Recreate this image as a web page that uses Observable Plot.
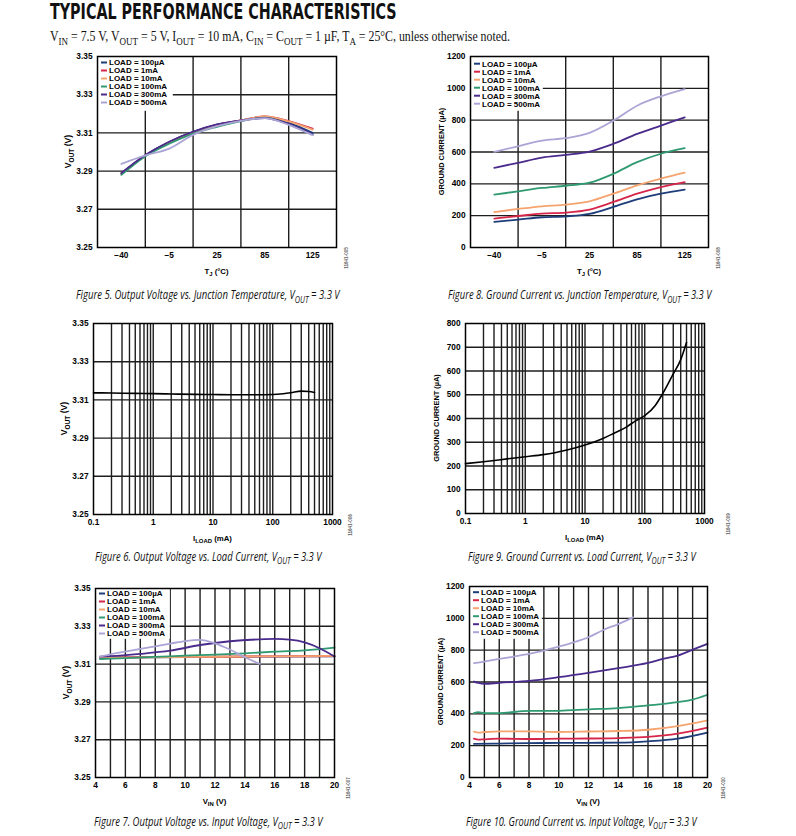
<!DOCTYPE html>
<html>
<head>
<meta charset="utf-8">
<script src="https://cdn.jsdelivr.net/npm/d3@7"></script>
<script src="https://cdn.jsdelivr.net/npm/@observablehq/plot@0.6"></script>
<style>
  html, body { margin: 0; padding: 0; background: #fff; }
  #page { position: relative; width: 796px; height: 836px; overflow: hidden; background: #fff; }
  #page svg.chart { position: absolute; }
  #overlay { position: absolute; left: 0; top: 0; pointer-events: none; }
</style>
</head>
<body>
<div id="page"></div>
<script>
// ---------------- DATA ----------------
const loads = ["100µA", "1mA", "10mA", "100mA", "300mA", "500mA"];
const loadColors = ["#1d3c7a", "#d6274b", "#f5a46f", "#2f9a72", "#4a2b8c", "#aba5d6"];

// Temperature axis (equally spaced categories)
const tempTicks = [-40, -5, 25, 85, 125];
const tempTickLabels = ["−40", "−5", "25", "85", "125"];
const tempPoints = [-40, -22.5, -5, 10, 25, 55, 85, 105, 125];

const voutTicks = [3.25, 3.27, 3.29, 3.31, 3.33, 3.35];
const gnd1200Ticks = [0, 200, 400, 600, 800, 1000, 1200];
const gnd800Ticks = [0, 100, 200, 300, 400, 500, 600, 700, 800];
const iLoadTicks = [0.1, 1, 10, 100, 1000];
const iLoadTickLabels = ["0.1", "1", "10", "100", "1000"];
const vinTicks = [4, 6, 8, 10, 12, 14, 16, 18, 20];

// Figure 5: VOUT (V) vs junction temperature, at tempPoints
const fig5_100uA = [3.2886, 3.2982, 3.3052, 3.3105, 3.3143, 3.3165, 3.3184, 3.3152, 3.3100];
const fig5_1mA   = [3.2886, 3.2982, 3.3050, 3.3103, 3.3142, 3.3165, 3.3186, 3.3162, 3.3122];
const fig5_10mA  = [3.2884, 3.2980, 3.3048, 3.3102, 3.3140, 3.3165, 3.3186, 3.3160, 3.3117];
const fig5_100mA = [3.2880, 3.2978, 3.3043, 3.3096, 3.3132, 3.3162, 3.3180, 3.3145, 3.3090];
const fig5_300mA = [3.2890, 3.2984, 3.3054, 3.3106, 3.3144, 3.3165, 3.3178, 3.3146, 3.3093];
const fig5_500mA = [3.2938, 3.2982, 3.3018, 3.3090, 3.3135, 3.3163, 3.3177, 3.3142, 3.3088];

// Figure 8: ground current (µA) vs junction temperature, at tempPoints
const fig8_100uA = [161, 175, 190, 196, 211, 255, 303, 338, 363];
const fig8_1mA   = [182, 198, 213, 219, 238, 286, 338, 380, 411];
const fig8_10mA  = [223, 242, 259, 269, 290, 338, 390, 432, 470];
const fig8_100mA = [332, 353, 374, 388, 407, 463, 536, 589, 624];
const fig8_300mA = [501, 532, 565, 582, 603, 651, 714, 766, 818];
const fig8_500mA = [601, 636, 672, 687, 720, 797, 891, 950, 995];

// Figure 6: VOUT vs load current
const fig6_iLoad = [0.1, 0.2, 0.5, 1, 2, 5, 10, 20, 50, 100, 150, 200, 300, 400, 500];
const fig6_vout  = [3.3137, 3.3136, 3.3134, 3.3133, 3.3131, 3.3129, 3.3128, 3.3127, 3.3127, 3.3128, 3.3132, 3.3137, 3.3146, 3.3144, 3.3139];

// Figure 9: ground current vs load current
const fig9_iLoad = [0.1, 0.2, 0.5, 1, 2, 3, 5, 10, 20, 30, 50, 70, 100, 150, 200, 300, 400, 500];
const fig9_gnd   = [210, 218, 230, 239, 248, 255, 267, 288, 316, 337, 365, 390, 412, 455, 505, 588, 648, 720];

// Figure 7: VOUT vs input voltage, [VIN, VOUT]
const fig7_100uA = [[4.3, 3.3134], [8, 3.3136], [12, 3.3138], [16, 3.3140], [20, 3.3141]];
const fig7_1mA   = [[4.3, 3.3135], [8, 3.3137], [12, 3.3139], [16, 3.3141], [20, 3.3142]];
const fig7_10mA  = [[4.3, 3.3133], [8, 3.3136], [12, 3.3139], [16, 3.3141], [20, 3.3143]];
const fig7_100mA = [[4.3, 3.3127], [6, 3.3132], [8, 3.3138], [10, 3.3145], [12, 3.3150], [14, 3.3157], [16, 3.3166], [18, 3.3173], [20, 3.3187]];
const fig7_300mA = [[4.3, 3.3140], [5, 3.3142], [7, 3.3154], [9, 3.3171], [11, 3.3201], [13, 3.3221], [15, 3.3231], [16, 3.3233], [17, 3.3229], [18, 3.3215], [19, 3.3184], [20, 3.3140]];
const fig7_500mA = [[4.3, 3.3140], [5, 3.3152], [6, 3.3166], [7, 3.3180], [8, 3.3194], [9, 3.3208], [10, 3.3222], [11, 3.3228], [12, 3.3210], [13, 3.3177], [14, 3.3136], [15, 3.3101]];

// Figure 10: ground current vs input voltage, [VIN, µA]
const fig10_100uA = [[4.3, 211], [6, 213], [8, 216], [10, 217], [12, 218], [14, 219], [16, 227], [18, 244], [20, 282]];
const fig10_1mA   = [[4.3, 244], [4.6, 238], [5, 240], [6, 244], [8, 242], [10, 244], [12, 245], [14, 248], [16, 255], [18, 275], [20, 313]];
const fig10_10mA  = [[4.3, 288], [4.6, 282], [5, 285], [6, 290], [8, 290], [10, 286], [12, 289], [14, 292], [16, 300], [18, 323], [20, 359]];
const fig10_100mA = [[4.3, 405], [4.6, 411], [5, 405], [6, 405], [8, 418], [10, 419], [12, 428], [14, 436], [16, 453], [18, 474], [19, 490], [20, 520]];
const fig10_300mA = [[4.3, 603], [4.6, 594], [5, 588], [6, 595], [8, 607], [10, 630], [12, 657], [14, 687], [16, 720], [17, 745], [18, 766], [19, 803], [20, 839]];
const fig10_500mA = [[4.3, 718], [5, 728], [6, 745], [7, 760], [8, 776], [9, 797], [10, 822], [11, 849], [12, 881], [13, 927], [14, 964], [15, 1006]];

// ---------------- BUILD ----------------
const FONT = '"Liberation Sans", Arial, Helvetica, sans-serif';
const page = document.getElementById("page");
const tempPos = d3.scaleLinear().domain(tempTicks).range(tempTicks.map((_, i) => i));

function tempRows(seriesList) {
  return loads.flatMap((ld, i) => tempPoints.map((t, j) => ({load: ld, t, v: seriesList[i][j]})));
}
function pairRows(seriesList) {
  return loads.flatMap((ld, i) => seriesList[i].map(([x, v]) => ({load: ld, x, v})));
}
function addRich(sel, parts, fs) {
  let shifted = false;
  for (const [t, sub] of parts) {
    const ts = sel.append("tspan").text(t);
    if (sub) {
      ts.attr("font-size", fs * 0.76);
      if (!shifted) { ts.attr("dy", fs * 0.3); shifted = true; }
    } else if (shifted) {
      ts.attr("dy", -fs * 0.3); shifted = false;
    }
  }
}

const GRID = {stroke: "#1e1e1e", strokeWidth: 1.4};

function drawChart(o) {
  const mL = 60, mT = 12, mR = 34, mB = 44;
  const W = o.R - o.L, H = o.B - o.T;
  const opts = {
    width: W + mL + mR, height: H + mT + mB,
    marginLeft: mL, marginRight: mR, marginTop: mT, marginBottom: mB,
    style: {fontFamily: FONT, fontSize: "8.3px", fontWeight: "bold", color: "#000", background: "transparent", overflow: "visible"},
    x: Object.assign({label: null, tickSize: 0, tickPadding: 5}, o.x),
    y: Object.assign({label: null, tickSize: 0, tickPadding: 5}, o.y),
    marks: [
      Plot.ruleX(o.gridX, GRID),
      Plot.ruleY(o.gridY, GRID),
      ...o.lines,
      Plot.frame({stroke: "#000", strokeWidth: 1.5})
    ]
  };
  if (o.legend) opts.color = {domain: loads, range: loadColors};
  const svg = Plot.plot(opts);
  svg.classList.add("chart");
  svg.style.left = (o.L - mL) + "px";
  svg.style.top = (o.T - mT) + "px";
  page.appendChild(svg);
  const s = d3.select(svg);

  // legend inside the frame
  if (o.legend) {
    const g = d3.create("svg:g").attr("transform", `translate(${mL},${mT})`)
      .attr("font-family", FONT).attr("font-size", 8).attr("font-weight", "bold").attr("text-anchor", "start");
    g.append("rect").attr("x", 0.8).attr("y", 0.8).attr("width", o.legend.w).attr("height", o.legend.h).attr("fill", "#fff");
    loads.forEach((ld, i) => {
      const yy = o.legend.y0 + i * 8;
      g.append("line").attr("x1", 4).attr("x2", 10).attr("y1", yy).attr("y2", yy)
        .attr("stroke", loadColors[i]).attr("stroke-width", 2);
      g.append("text").attr("x", 12).attr("y", yy).attr("dy", "0.36em").attr("text-anchor", "start")
        .attr("fill", "#000").text(`LOAD = ${ld}`);
    });
    const firstLine = svg.querySelector('g[aria-label="line"]');
    if (firstLine) svg.insertBefore(g.node(), firstLine); else svg.appendChild(g.node());
  }

  // axis labels
  const xl = s.append("text").attr("x", mL + W / 2).attr("y", mT + H + 27)
    .attr("text-anchor", "middle").attr("font-family", FONT).attr("font-size", 7.8).attr("font-weight", "bold").attr("fill", "#000");
  addRich(xl, o.xLabel, 7.8);
  const yl = s.append("text").attr("transform", `translate(${mL - 26},${mT + H / 2}) rotate(-90)`)
    .attr("text-anchor", "middle").attr("font-family", FONT).attr("font-size", o.yLabelSize).attr("font-weight", "bold").attr("fill", "#000");
  addRich(yl, o.yLabel, o.yLabelSize);

  // figure code
  s.append("text").attr("transform", `translate(${mL + W + o.codeDx},${mT + H + 11}) rotate(-90)`)
    .attr("text-anchor", "middle").attr("font-family", FONT).attr("font-size", 4.6).attr("fill", "#666").text(o.code);
}

const voutY = {domain: [3.25, 3.35], ticks: voutTicks, tickFormat: d => d.toFixed(2)};
const tempX = {domain: [-0.5, 4.5], ticks: tempTicks.map((_, i) => i), tickFormat: i => tempTickLabels[i]};
const logX = {type: "log", domain: [0.1, 1000], ticks: iLoadTicks, tickFormat: d => iLoadTickLabels[iLoadTicks.indexOf(d)]};
const vinX = {domain: [4, 20], ticks: vinTicks, tickFormat: d => String(d)};
const logGrid = [0.1, 1, 10, 100].flatMap(dec => d3.range(1, 10).map(k => k * dec)).filter(v => v > 0.1);
const tempGrid = d3.range(0.5, 4, 1);
const vinGrid = d3.range(5, 20, 1);
const tJ = [["T"], ["J", 1], [" (°C)"]];
const vOut = [["V"], ["OUT", 1], [" (V)"]];
const gndLbl = [["GROUND CURRENT (µA)"]];
const iLoadLbl = [["I"], ["LOAD", 1], [" (mA)"]];
const vInLbl = [["V"], ["IN", 1], [" (V)"]];

// Figure 5
drawChart({
  L: 97, T: 56, R: 336, B: 247, x: tempX, y: voutY,
  gridX: tempGrid, gridY: voutTicks.slice(1, -1),
  lines: [Plot.line(tempRows([fig5_100uA, fig5_1mA, fig5_10mA, fig5_100mA, fig5_300mA, fig5_500mA]),
    {x: d => tempPos(d.t), y: "v", z: "load", stroke: "load", strokeWidth: 1.8, curve: "monotone-x"})],
  legend: {w: 75, h: 54, y0: 6.5}, xLabel: tJ, yLabel: vOut, yLabelSize: 8.6, code: "11641-005", codeDx: 12
});
// Figure 8
drawChart({
  L: 470, T: 56, R: 708, B: 247, x: tempX, y: {domain: [0, 1200], ticks: gnd1200Ticks, tickFormat: d => String(d)},
  gridX: tempGrid, gridY: gnd1200Ticks.slice(1, -1),
  lines: [Plot.line(tempRows([fig8_100uA, fig8_1mA, fig8_10mA, fig8_100mA, fig8_300mA, fig8_500mA]),
    {x: d => tempPos(d.t), y: "v", z: "load", stroke: "load", strokeWidth: 1.8, curve: "monotone-x"})],
  legend: {w: 72, h: 54, y0: 7.7}, xLabel: tJ, yLabel: gndLbl, yLabelSize: 7.4, code: "11641-008", codeDx: 12
});
// Figure 6
drawChart({
  L: 93, T: 323, R: 332, B: 514, x: logX, y: voutY,
  gridX: logGrid, gridY: voutTicks.slice(1, -1),
  lines: [Plot.line(fig6_iLoad.map((x, i) => ({x, v: fig6_vout[i]})), {x: "x", y: "v", stroke: "#000", strokeWidth: 1.6, curve: "monotone-x"})],
  legend: null, xLabel: iLoadLbl, yLabel: vOut, yLabelSize: 8.6, code: "11641-006", codeDx: 20
});
// Figure 9
drawChart({
  L: 465, T: 323, R: 704, B: 513, x: logX, y: {domain: [0, 800], ticks: gnd800Ticks, tickFormat: d => String(d)},
  gridX: logGrid, gridY: gnd800Ticks.slice(1, -1),
  lines: [Plot.line(fig9_iLoad.map((x, i) => ({x, v: fig9_gnd[i]})), {x: "x", y: "v", stroke: "#000", strokeWidth: 1.6, curve: "monotone-x"})],
  legend: null, xLabel: iLoadLbl, yLabel: gndLbl, yLabelSize: 7.4, code: "11641-009", codeDx: 26
});
// Figure 7
drawChart({
  L: 95, T: 588, R: 334, B: 777, x: vinX, y: voutY,
  gridX: vinGrid, gridY: voutTicks.slice(1, -1),
  lines: [Plot.line(pairRows([fig7_100uA, fig7_1mA, fig7_10mA, fig7_100mA, fig7_300mA, fig7_500mA]),
    {x: "x", y: "v", z: "load", stroke: "load", strokeWidth: 1.8, curve: "monotone-x"})],
  legend: {w: 74, h: 50, y0: 5.5}, xLabel: vInLbl, yLabel: vOut, yLabelSize: 8.6, code: "11641-007", codeDx: 16
});
// Figure 10
drawChart({
  L: 469, T: 586, R: 707, B: 777, x: vinX, y: {domain: [0, 1200], ticks: gnd1200Ticks, tickFormat: d => String(d)},
  gridX: vinGrid, gridY: gnd1200Ticks.slice(1, -1),
  lines: [Plot.line(pairRows([fig10_100uA, fig10_1mA, fig10_10mA, fig10_100mA, fig10_300mA, fig10_500mA]),
    {x: "x", y: "v", z: "load", stroke: "load", strokeWidth: 1.8, curve: "monotone-x"})],
  legend: {w: 72, h: 52, y0: 6.2}, xLabel: vInLbl, yLabel: gndLbl, yLabelSize: 7.4, code: "11641-010", codeDx: 18
});

// ---------------- PAGE TEXT ----------------
const ov = d3.select(page).append("svg").attr("id", "overlay").attr("width", 796).attr("height", 836);
function fitted(parts, fs, family, style, x0, x1, baseY, weight) {
  const t = ov.append("text").attr("font-family", family).attr("font-size", fs)
    .attr("font-style", style || "normal").attr("font-weight", weight || "normal").attr("fill", "#111");
  addRich(t, parts, fs);
  const w = t.node().getBBox().width || (x1 - x0);
  t.attr("transform", `translate(${x0},${baseY}) scale(${(x1 - x0) / w},1)`);
  return t;
}
fitted([["TYPICAL PERFORMANCE CHARACTERISTICS"]], 20.5, '"DejaVu Sans Condensed", "DejaVu Sans", sans-serif', "normal", 50, 397, 19, "bold");
fitted([["V"], ["IN", 1], [" = 7.5 V, V"], ["OUT", 1], [" = 5 V, I"], ["OUT", 1], [" = 10 mA, C"], ["IN", 1], [" = C"], ["OUT", 1], [" = 1 µF, T"], ["A", 1], [" = 25°C, unless otherwise noted."]],
  14, '"Liberation Serif", "Times New Roman", serif', "normal", 50, 510, 40.5);

const CAP_FONT = '"Liberation Sans Narrow", "Open Sans", Roboto, sans-serif';
const captions = [
  ["Figure 5. Output Voltage vs. Junction Temperature, V", 76, 341, 299],
  ["Figure 8. Ground Current vs. Junction Temperature, V", 448, 713, 299],
  ["Figure 6. Output Voltage vs. Load Current, V", 95, 323, 560.5],
  ["Figure 9. Ground Current vs. Load Current, V", 468, 697, 560.5],
  ["Figure 7. Output Voltage vs. Input Voltage, V", 94, 324, 825.5],
  ["Figure 10. Ground Current vs. Input Voltage, V", 466, 698, 825.5]
];
captions.forEach(([txt, x0, x1, by]) => {
  fitted([[txt], ["OUT", 1], [" = 3.3 V"]], 12, CAP_FONT, "italic", x0, x1, by);
});
</script>
</body>
</html>
